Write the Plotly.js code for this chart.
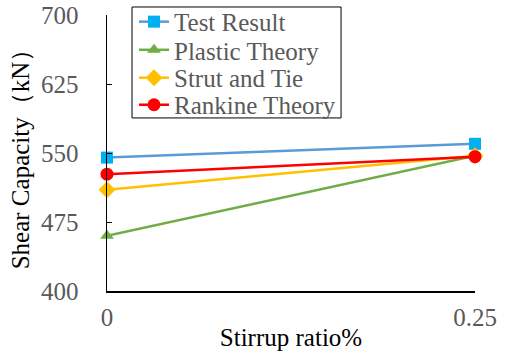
<!DOCTYPE html>
<html>
<head>
<meta charset="utf-8">
<script src="https://cdn.plot.ly/plotly-3.0.1.min.js"></script>
<style>
html,body{margin:0;padding:0;background:#fff;font-family:"Liberation Serif"}
#chart{width:505px;height:351px}
</style>
</head>
<body>
<div id="chart"></div>
<script>
const stirrupRatio = [0, 0.25];
const xTickLabels = ['0', '0.25'];
const yTickValues = [400, 475, 550, 625, 700];
const testResult = [545, 560];
const plasticTheory = [460, 547];
const strutAndTie = [510, 547];
const rankineTheory = [527, 546];
const seriesNames = ['Test Result', 'Plastic Theory', 'Strut and Tie', 'Rankine Theory'];

const styles = [
  {line: '#5B9BD5', marker: '#00B0F0', symbol: 'square', size: 12},
  {line: '#70AD47', marker: '#70AD47', symbol: 'triangle-up', size: 12},
  {line: '#FFC000', marker: '#FFC000', symbol: 'diamond', size: 13},
  {line: '#FF0000', marker: '#FF0000', symbol: 'circle', size: 13}
];
const values = [testResult, plasticTheory, strutAndTie, rankineTheory];
const legendIds = ['legend', 'legend2', 'legend3', 'legend4'];
const legendRowY = [0.975, 0.873, 0.772, 0.674];

const traces = values.map((v, i) => ({
  x: stirrupRatio, y: v, name: seriesNames[i], legend: legendIds[i],
  type: 'scatter', mode: 'lines+markers', cliponaxis: false,
  line: {color: styles[i].line, width: 2.5},
  marker: {color: styles[i].marker, symbol: styles[i].symbol, size: styles[i].size}
}));

const font = 'Liberation Serif';
const fs = 25;
const layout = {
  width: 505, height: 351,
  margin: {l: 107, r: 30, t: 15, b: 60, autoexpand: false},
  paper_bgcolor: '#fff', plot_bgcolor: '#fff',
  font: {family: font, size: fs, color: '#000'},
  showlegend: true,
  shapes: [{
    type: 'rect', xref: 'paper', yref: 'paper',
    x0: 0.068, x1: 0.636, y0: 0.627, y1: 1.029,
    line: {color: '#000', width: 1}, fillcolor: 'rgba(0,0,0,0)', layer: 'above'
  }],
  xaxis: {
    range: [0, 0.25], tickvals: stirrupRatio, ticktext: xTickLabels,
    showline: true, linecolor: '#000', linewidth: 1.5,
    ticks: 'inside', ticklen: 5, tickcolor: '#000',
    showgrid: false, zeroline: false,
    tickfont: {family: font, size: fs, color: '#595959'},
    ticklabelstandoff: 3,
    title: {text: 'Stirrup ratio%', font: {family: font, size: fs, color: '#000'}, standoff: 0},
    automargin: false
  },
  yaxis: {
    range: [400, 700], tickvals: yTickValues,
    showline: true, linecolor: '#000', linewidth: 1.5,
    ticks: 'inside', ticklen: 5, tickcolor: '#000',
    showgrid: false, zeroline: false,
    tickfont: {family: font, size: fs, color: '#595959'},
    ticklabelstandoff: 22,
    title: {text: 'Shear Capacity（kN）', font: {family: font, size: fs, color: '#000'}, standoff: 4},
    automargin: false
  }
};
legendIds.forEach((id, i) => {
  layout[id] = {
    x: 0.0734, y: legendRowY[i], xanchor: 'left', yanchor: 'middle',
    borderwidth: 0, bgcolor: 'rgba(0,0,0,0)',
    font: {family: font, size: fs, color: '#595959'},
    itemwidth: 30
  };
});
const config = {displayModeBar: false, staticPlot: true};
function touchText() {
  document.querySelectorAll('#chart text').forEach(t => {
    getComputedStyle(t).fontFamily;
    t.getBBox();
    t.style.fontFamily = '"Liberation Serif"';
  });
}
Plotly.newPlot('chart', traces, layout, config)
  .then(() => { touchText(); return Plotly.newPlot('chart', traces, layout, config); })
  .then(() => { touchText(); });
</script>
</body>
</html>
